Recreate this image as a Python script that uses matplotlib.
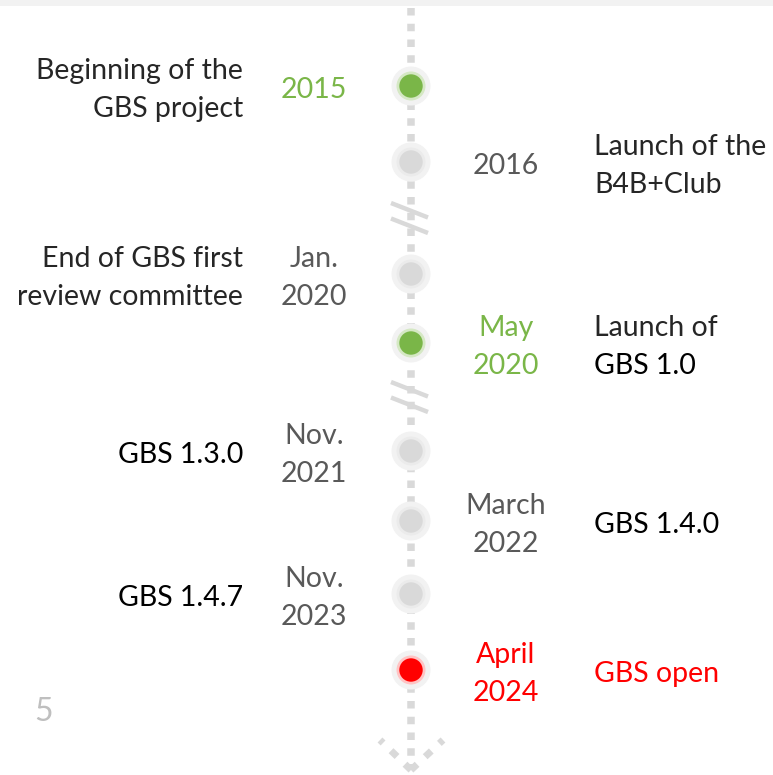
import matplotlib
matplotlib.use('Agg')
import matplotlib.pyplot as plt
from matplotlib.patches import Circle, Rectangle

# ---- data ----
dates = ["2015", "2016", "Jan.\n2020", "May\n2020", "Nov.\n2021",
         "March\n2022", "Nov.\n2023", "April\n2024"]
descriptions = ["Beginning of the\nGBS project", "Launch of the\nB4B+Club",
                "End of GBS first\nreview committee", "Launch of\nGBS 1.0",
                "GBS 1.3.0", "GBS 1.4.0", "GBS 1.4.7", "GBS open"]
sides = ["left", "right", "left", "right", "left", "right", "left", "right"]
status = ["green", "gray", "gray", "green", "gray", "gray", "gray", "red"]
releases = ["GBS 1.0", "GBS 1.3.0", "GBS 1.4.0", "GBS 1.4.7", "GBS open"]
page_number = "5"

# ---- layout (pixel coordinates) ----
W, H = 773, 775
x_axis = 411
event_y = [86, 162, 274, 343, 451, 521, 594, 670]
breaks_y = [203, 382]          # top of the "//" break marks
line_gap = 37.5
FONT = 'Lato'
FS = 20.5

dot_inner = {'green': '#7ab648', 'gray': '#d9d9d9', 'red': '#ff0000'}
dot_ring = {'green': '#d5e8c4', 'gray': '#ebebeb', 'red': '#ffc4c4'}
date_color = {'green': '#7ab648', 'gray': '#595959', 'red': '#ff0000'}
line_grey = '#d9d9d9'

fig = plt.figure(figsize=(W / 100, H / 100), dpi=100)
ax = fig.add_axes([0, 0, 1, 1])
ax.set_xlim(0, W)
ax.set_ylim(H, 0)
ax.axis('off')

# top strip
ax.add_patch(Rectangle((0, 0), W, 5.5, facecolor='#f2f2f2', edgecolor='none'))

# dotted spine
ax.plot([x_axis, x_axis], [8, 770], color=line_grey, lw=5.4,
        ls=(0, (1.0, 1.1)), solid_capstyle='butt', dash_capstyle='butt', zorder=1)

# break marks
for by in breaks_y:
    for off in [0, 15.5]:
        ax.plot([391, 428], [by + off, by + off + 14.5], color=line_grey,
                lw=3.2, solid_capstyle='butt', zorder=2)

# arrow head at the bottom
for x_end in [380, 443]:
    ax.plot([x_axis, x_end], [770, 740], color=line_grey, lw=5.0,
            ls=(0, (1.2, 1.6)), dash_capstyle='butt', zorder=1)


def put_lines(x, yc, text, ha, color_fn):
    lines = text.split('\n')
    n = len(lines)
    for i, ln in enumerate(lines):
        yy = yc + (i - (n - 1) / 2) * line_gap
        ax.text(x, yy, ln, ha=ha, va='center', fontsize=FS, family=FONT,
                color=color_fn(ln), zorder=5)


for y, d, desc, side, st in zip(event_y, dates, descriptions, sides, status):
    # dot
    ax.add_patch(Circle((x_axis, y), 19.5, facecolor='#f2f2f2', edgecolor='none', zorder=3))
    ax.add_patch(Circle((x_axis, y), 14.5, facecolor=dot_ring[st], edgecolor='none', zorder=3))
    ax.add_patch(Circle((x_axis, y), 11.7, facecolor=dot_inner[st], edgecolor='none', zorder=4))

    yc = y + 4
    if side == 'left':
        date_x, desc_x, desc_ha = 314, 243, 'right'
    else:
        date_x, desc_x, desc_ha = 506, 594, 'left'

    put_lines(date_x, yc, d, 'center', lambda ln, st=st: date_color[st])

    def desc_color(ln, st=st):
        if st == 'red':
            return '#ff0000'
        return '#000000' if ln in releases else '#262626'

    put_lines(desc_x, yc, desc, desc_ha, desc_color)

# slide number
ax.text(44, 712, page_number, ha='center', va='center', fontsize=23,
        family=FONT, color='#bfbfbf')

fig.savefig('out.png', dpi=100)
